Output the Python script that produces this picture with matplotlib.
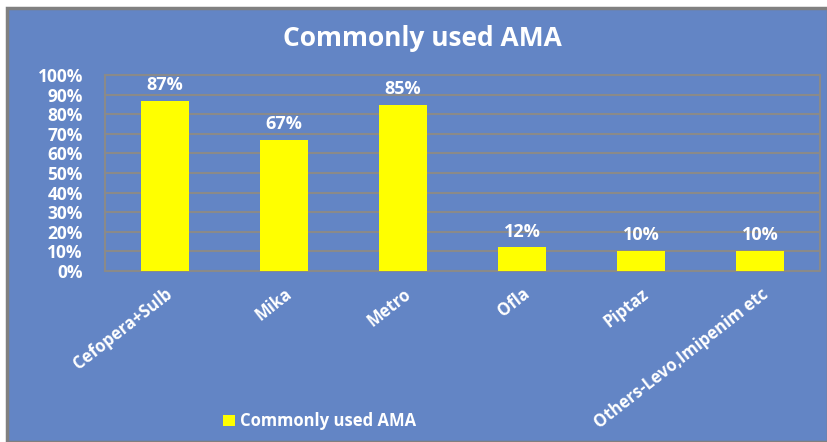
"""plot.py: bar chart of commonly used AMA, saved as out.png"""

import matplotlib.pyplot as plt
from matplotlib.patches import Rectangle

categories = ['Cefopera+Sulb', 'Mika', 'Metro', 'Ofla', 'Piptaz', 'Others-Levo,Imipenim etc']
values = [87, 67, 85, 12, 10, 10]
yticks = list(range(0, 101, 10))
series_name = 'Commonly used AMA'

plt.rcParams['font.family'] = ['Open Sans', 'DejaVu Sans']
plt.rcParams['font.weight'] = 'bold'

bg = '#6385c5'
grid_col = '#8a8a8a'

fig = plt.figure(figsize=(8.28, 4.42), dpi=100)
fig.patch.set_facecolor('white')

# blue background with grey frame
fig.patches.append(Rectangle((0.009, 0.0), 0.991, 0.982, transform=fig.transFigure,
                             facecolor=bg, edgecolor='#808080', linewidth=2.5, zorder=-2))

ax = fig.add_axes([0.127, 0.387, 0.863, 0.443])
ax.set_facecolor('none')

x = list(range(len(categories)))
bars = ax.bar(x, values, width=0.4, color='#ffff00', zorder=3, label=series_name)

ax.set_xlim(-0.5, len(categories) - 0.5)
ax.set_ylim(0, 100)
ax.set_yticks(yticks)
ax.set_yticklabels([str(t) + '%' for t in yticks], color='white', fontsize=12.5, fontweight='bold')
ax.tick_params(axis='y', length=0, pad=16)
ax.tick_params(axis='x', length=0, pad=10)

ax.set_xticks(x)
ax.set_xticklabels(categories, rotation=38, ha='right', rotation_mode='anchor',
                   color='white', fontsize=12, fontweight='bold')

ax.grid(axis='y', color=grid_col, linewidth=1.5, zorder=1)
for s in ax.spines.values():
    s.set_color(grid_col)
    s.set_linewidth(1.5)

# value labels above the bars
for b, v in zip(bars, values):
    ax.annotate(str(v) + '%', (b.get_x() + b.get_width() / 2, v), xytext=(0, 5),
                textcoords='offset points', ha='center', va='bottom',
                color='white', fontsize=13, fontweight='bold')

fig.text(0.51, 0.912, 'Commonly used AMA', ha='center', va='center',
         color='white', fontsize=19, fontweight='bold')

leg = fig.legend(loc='center', bbox_to_anchor=(0.386, 0.047), frameon=False,
                 handlelength=0.7, handleheight=0.7, handletextpad=0.3,
                 prop={'weight': 'bold', 'size': 12})
for t in leg.get_texts():
    t.set_color('white')

fig.savefig('out.png', dpi=100, facecolor=fig.get_facecolor())
